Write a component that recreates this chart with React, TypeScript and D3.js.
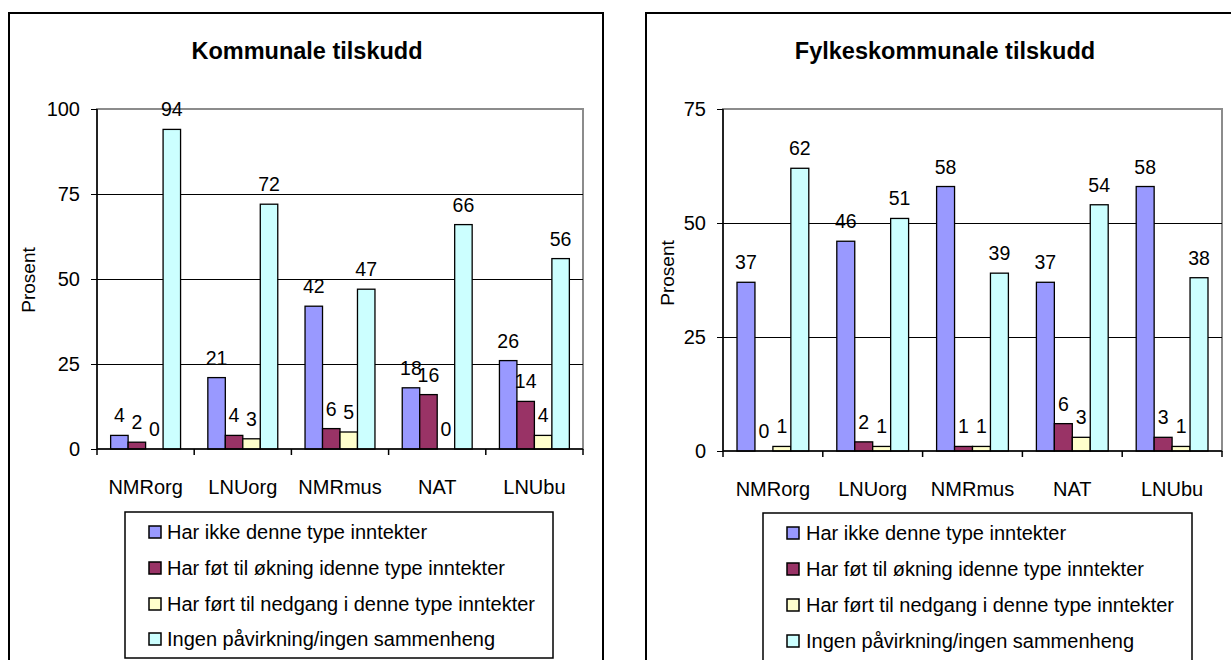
import React, { useEffect, useRef } from 'react';
import * as d3 from 'd3';

const WIDTH = 1231;
const HEIGHT = 660;
const FONT = '"Liberation Sans", Arial, sans-serif';

const CATEGORIES = ['NMRorg', 'LNUorg', 'NMRmus', 'NAT', 'LNUbu'];
const SERIES = [
  'Har ikke denne type inntekter',
  'Har føt til økning idenne type inntekter',
  'Har ført til nedgang i denne type inntekter',
  'Ingen påvirkning/ingen sammenheng',
];
const COLORS = ['#9999FF', '#993366', '#FFFFCC', '#CCFFFF'];

// one row per category, one value per series (percent)
const KOMMUNALE = [
  [4, 2, 0, 94],
  [21, 4, 3, 72],
  [42, 6, 5, 47],
  [18, 16, 0, 66],
  [26, 14, 4, 56],
];
const FYLKESKOMMUNALE = [
  [37, 0, 1, 62],
  [46, 2, 1, 51],
  [58, 1, 1, 39],
  [37, 6, 3, 54],
  [58, 3, 1, 38],
];
const KOMMUNALE_TICKS = [0, 25, 50, 75, 100];
const FYLKES_TICKS = [0, 25, 50, 75];

const panels = [
  {
    title: 'Kommunale tilskudd',
    data: KOMMUNALE,
    ticks: KOMMUNALE_TICKS,
    frame: { x: 9, y: 13, w: 594, h: 660 },
    titleX: 307,
    plot: { left: 97, right: 583, top: 109, bottom: 449 },
    prosent: { x: 28, y: 280 },
    legend: { x: 125, y: 512, w: 428, h: 146, mark: 149, text: 167, rows: [532, 568, 604, 639] },
  },
  {
    title: 'Fylkeskommunale tilskudd',
    data: FYLKESKOMMUNALE,
    ticks: FYLKES_TICKS,
    frame: { x: 646, y: 13, w: 620, h: 660 },
    titleX: 945,
    plot: { left: 723, right: 1222, top: 109, bottom: 451 },
    prosent: { x: 667, y: 273 },
    legend: { x: 763, y: 513, w: 429, h: 160, mark: 787, text: 806, rows: [533, 569, 605, 641] },
  },
];

function drawPanel(svg, p) {
  const g = svg.append('g');

  g.append('rect')
    .attr('x', p.frame.x).attr('y', p.frame.y)
    .attr('width', p.frame.w).attr('height', p.frame.h)
    .attr('fill', 'white').attr('stroke', 'black').attr('stroke-width', 2);

  g.append('text')
    .attr('x', p.titleX).attr('y', 59)
    .attr('text-anchor', 'middle')
    .attr('font-family', FONT).attr('font-weight', 'bold').attr('font-size', 23.5)
    .text(p.title);

  const yMax = d3.max(p.ticks);
  const y = d3.scaleLinear().domain([0, yMax]).range([p.plot.bottom, p.plot.top]);
  const x0 = d3.scaleBand().domain(CATEGORIES).range([p.plot.left, p.plot.right]);
  const x1 = d3.scaleBand().domain(d3.range(SERIES.length)).range([0, x0.bandwidth()]).paddingOuter(0.78);

  // plot area border (grey) and gridlines
  g.append('rect')
    .attr('x', p.plot.left).attr('y', p.plot.top)
    .attr('width', p.plot.right - p.plot.left).attr('height', p.plot.bottom - p.plot.top)
    .attr('fill', 'white').attr('stroke', '#8c8c8c').attr('stroke-width', 1.5)
    .attr('shape-rendering', 'crispEdges');

  g.append('g')
    .selectAll('line')
    .data(p.ticks.filter(t => t > 0 && t < yMax))
    .join('line')
    .attr('x1', p.plot.left).attr('x2', p.plot.right)
    .attr('y1', d => y(d)).attr('y2', d => y(d))
    .attr('stroke', 'black').attr('stroke-width', 1)
    .attr('shape-rendering', 'crispEdges');

  // bars
  const groups = g.append('g')
    .selectAll('g')
    .data(p.data)
    .join('g')
    .attr('transform', (d, i) => `translate(${x0(CATEGORIES[i])},0)`);

  groups.selectAll('rect')
    .data(d => d)
    .join('rect')
    .attr('x', (d, j) => x1(j))
    .attr('width', x1.bandwidth())
    .attr('y', d => y(d))
    .attr('height', d => y(0) - y(d))
    .attr('fill', (d, j) => COLORS[j])
    .attr('stroke', d => (d > 0 ? 'black' : 'none'))
    .attr('stroke-width', 1.3);

  groups.selectAll('text')
    .data(d => d)
    .join('text')
    .attr('x', (d, j) => x1(j) + x1.bandwidth() / 2)
    .attr('y', d => y(d) - 13)
    .attr('text-anchor', 'middle')
    .attr('font-family', FONT).attr('font-size', 19.5)
    .text(d => d);

  // axes
  const yAxis = g.append('g')
    .attr('transform', `translate(${p.plot.left},0)`)
    .call(d3.axisLeft(y).tickValues(p.ticks).tickSize(6).tickPadding(11));
  yAxis.select('.domain').attr('stroke', 'black').attr('stroke-width', 1.5).attr('d', `M0,${p.plot.top}V${p.plot.bottom}`);
  yAxis.selectAll('line').attr('stroke-width', 1.5).attr('shape-rendering', 'crispEdges');
  yAxis.selectAll('text').attr('font-family', FONT).attr('font-size', 20).attr('fill', 'black');

  const xAxis = g.append('g')
    .attr('transform', `translate(0,${p.plot.bottom})`)
    .call(d3.axisBottom(x0).tickSize(0).tickPadding(31));
  xAxis.select('.domain').attr('stroke', 'black').attr('stroke-width', 1.5).attr('d', `M${p.plot.left},0H${p.plot.right}`);
  xAxis.selectAll('text').attr('font-family', FONT).attr('font-size', 20).attr('fill', 'black');

  const bounds = CATEGORIES.map(c => x0(c)).concat([p.plot.right]);
  xAxis.append('g')
    .selectAll('line')
    .data(bounds)
    .join('line')
    .attr('x1', d => d).attr('x2', d => d)
    .attr('y1', 0).attr('y2', 6)
    .attr('stroke', 'black').attr('stroke-width', 1.5);

  g.append('text')
    .attr('transform', `translate(${p.prosent.x},${p.prosent.y}) rotate(-90)`)
    .attr('text-anchor', 'middle')
    .attr('dy', '0.35em')
    .attr('font-family', FONT).attr('font-size', 19)
    .text('Prosent');

  // legend
  const lg = g.append('g');
  lg.append('rect')
    .attr('x', p.legend.x).attr('y', p.legend.y)
    .attr('width', p.legend.w).attr('height', p.legend.h)
    .attr('fill', 'white').attr('stroke', 'black').attr('stroke-width', 1.5);

  const items = lg.selectAll('g.item')
    .data(SERIES)
    .join('g')
    .attr('class', 'item')
    .attr('transform', (d, i) => `translate(0,${p.legend.rows[i]})`);

  items.append('rect')
    .attr('x', p.legend.mark).attr('y', -6)
    .attr('width', 12).attr('height', 12)
    .attr('fill', (d, i) => COLORS[i])
    .attr('stroke', 'black').attr('stroke-width', 1.5);

  items.append('text')
    .attr('x', p.legend.text).attr('y', 0)
    .attr('dy', '0.35em')
    .attr('font-family', FONT).attr('font-size', 20)
    .text(d => d);
}

export default function App() {
  const svgRef = useRef(null);

  useEffect(() => {
    const svg = d3.select(svgRef.current);
    svg.selectAll('*').remove();
    panels.forEach(p => drawPanel(svg, p));
  }, []);

  return (
    <svg
      ref={svgRef}
      width={WIDTH}
      height={HEIGHT}
      style={{ position: 'absolute', left: 0, top: 0, background: 'white' }}
    />
  );
}
